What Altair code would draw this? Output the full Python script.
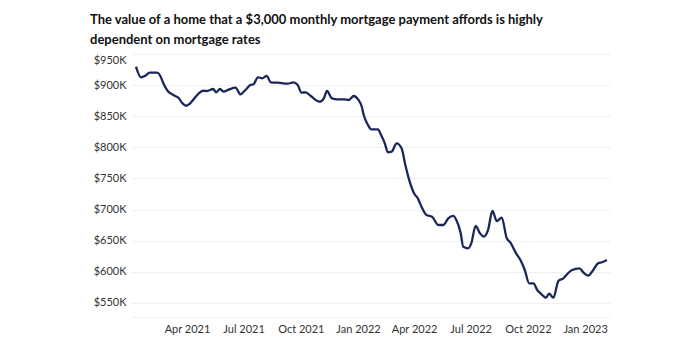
import altair as alt
import pandas as pd

dates = [
    "2021-01-09", "2021-01-17", "2021-01-24", "2021-01-31", "2021-02-12", "2021-02-17",
    "2021-02-22", "2021-03-01", "2021-03-10", "2021-03-19", "2021-03-24", "2021-03-31",
    "2021-04-05", "2021-04-12", "2021-04-19", "2021-04-27", "2021-05-03", "2021-05-13",
    "2021-05-18", "2021-05-24", "2021-05-30", "2021-06-07", "2021-06-18", "2021-06-26",
    "2021-07-04", "2021-07-12", "2021-07-17", "2021-07-24", "2021-07-31", "2021-08-07",
    "2021-08-14", "2021-08-25", "2021-09-10", "2021-09-19", "2021-09-26", "2021-10-02",
    "2021-10-09", "2021-10-17", "2021-10-31", "2021-11-07", "2021-11-12", "2021-11-20",
    "2021-11-29", "2021-12-10", "2021-12-17", "2021-12-25", "2022-01-01", "2022-01-07",
    "2022-01-10", "2022-01-17", "2022-01-22", "2022-02-02", "2022-02-07", "2022-02-13",
    "2022-02-18", "2022-02-24", "2022-03-04", "2022-03-12", "2022-03-18", "2022-03-25",
    "2022-04-01", "2022-04-07", "2022-04-13", "2022-04-21", "2022-04-30", "2022-05-10",
    "2022-05-18", "2022-05-26", "2022-06-03", "2022-06-08", "2022-06-15", "2022-06-19",
    "2022-06-27", "2022-07-02", "2022-07-09", "2022-07-16", "2022-07-22", "2022-07-29",
    "2022-08-05", "2022-08-12", "2022-08-20", "2022-08-28", "2022-09-03", "2022-09-12",
    "2022-09-19", "2022-09-26", "2022-10-03", "2022-10-10", "2022-10-16", "2022-10-23",
    "2022-10-30", "2022-11-04", "2022-11-11", "2022-11-19", "2022-11-27", "2022-12-03",
    "2022-12-11", "2022-12-23", "2022-12-29", "2023-01-06", "2023-01-13", "2023-01-22",
    "2023-01-28", "2023-02-05",
]

home_value_k = [
    929.6, 912.6, 915.1, 920.0, 920.0, 915.1,
    902.9, 890.6, 884.1, 878.8, 871.8, 866.9,
    869.7, 877.7, 885.7, 891.0, 890.6, 893.8,
    888.5, 893.8, 889.4, 892.7, 895.9, 885.3,
    892.2, 900.2, 901.3, 912.6, 911.0, 914.7,
    904.5, 903.9, 902.3, 904.5, 900.2, 887.8,
    888.5, 882.5, 873.4, 878.8, 890.6, 878.8,
    877.2, 877.2, 876.1, 882.5, 877.2, 865.3,
    852.3, 835.9, 829.0, 829.0, 819.9, 806.5,
    792.1, 793.1, 806.5, 798.5, 771.7, 744.9,
    726.2, 718.2, 704.7, 691.4, 688.6, 675.3,
    675.3, 686.1, 689.8, 683.3, 662.0, 640.4,
    637.9, 645.9, 673.7, 662.0, 656.5, 667.3,
    697.8, 681.7, 687.0, 653.9, 646.9, 629.8,
    619.1, 603.0, 581.6, 581.6, 570.9, 564.0,
    558.5, 564.9, 558.5, 585.3, 589.7, 596.1,
    603.0, 605.7, 599.3, 593.9, 601.4, 613.8,
    615.4, 619.1,
]

y_ticks = [550, 600, 650, 700, 750, 800, 850, 900, 950]
x_ticks = [(2021, 4), (2021, 7), (2021, 10), (2022, 1), (2022, 4), (2022, 7), (2022, 10), (2023, 1)]

title_lines = [
    "The value of a home that a $3,000 monthly mortgage payment affords is highly",
    "dependent on mortgage rates",
]

df = pd.DataFrame({"date": dates, "value": home_value_k})

FONT = "Lato"

chart = (
    alt.Chart(df)
    .mark_line(color="#1c2657", strokeWidth=2.3, interpolate="monotone")
    .encode(
        x=alt.X(
            "date:T",
            title=None,
            scale=alt.Scale(
                domain=[alt.DateTime(year=2021, month=1, date=1), alt.DateTime(year=2023, month=2, date=10)]
            ),
            axis=alt.Axis(
                values=[alt.DateTime(year=y, month=m, date=1) for y, m in x_ticks],
                format="%b %Y",
                grid=False,
                ticks=False,
                domain=True,
                domainColor="#f0f0f0",
                labelPadding=6,
                labelFontSize=11,
                labelColor="#333333",
                labelFont=FONT,
            ),
        ),
        y=alt.Y(
            "value:Q",
            title=None,
            scale=alt.Scale(domain=[527.5, 950], nice=False, zero=False),
            axis=alt.Axis(
                values=y_ticks,
                labelExpr="'$' + datum.value + 'K'",
                labelFlush=True,
                grid=True,
                gridColor="#f0f0f0",
                ticks=False,
                domain=False,
                labelPadding=5,
                labelFontSize=11,
                labelColor="#333333",
                labelFont=FONT,
            ),
        ),
    )
    .properties(
        width=479,
        height=263,
        background="white",
        title=alt.TitleParams(
            text=title_lines,
            anchor="start",
            frame="group",
            font=FONT,
            fontSize=13,
            fontWeight="bold",
            color="#111111",
            lineHeight=20,
            dx=-41,
            dy=1,
            offset=8,
        ),
        autosize=alt.AutoSizeParams(type="none"),
        padding={"left": 131, "top": 54, "right": 90, "bottom": 37},
    )
    .configure_view(strokeWidth=0, stroke="transparent")
)

chart.save("out.html", embed_options={"renderer": "svg", "actions": False})
